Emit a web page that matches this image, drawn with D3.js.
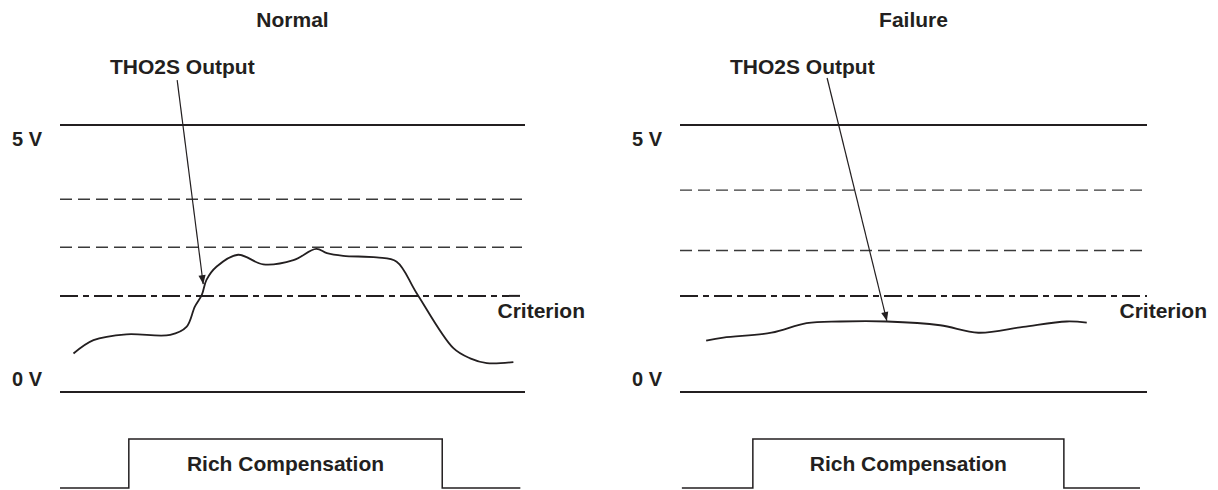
<!DOCTYPE html>
<html>
<head>
<meta charset="utf-8">
<script src="https://cdn.jsdelivr.net/npm/d3@7"></script>
<style>
  body { margin: 0; background: #fff; }
  text { font-family: "Liberation Sans", Arial, sans-serif; font-weight: bold; fill: #231f20; }
</style>
</head>
<body>
<div id="chart"></div>
<script>
// panel titles and labels
const panelTitles = ["Normal", "Failure"];
const outputLabel = "THO2S Output";
const criterionLabel = "Criterion";
const pulseLabel = "Rich Compensation";
const voltTicks = [5, 0];

// sensor output (time in %, volts)
const normalTime = [2.9, 7.2, 14.3, 23.7, 27.2, 29.0, 30.5, 31.5, 33.7, 38.3, 43.7, 50.2, 55.1, 57.4, 60.9, 68.1, 72.4, 76.7, 84.6, 88.2, 91.8, 97.5];
const normalVolt = [0.72, 0.97, 1.08, 1.07, 1.22, 1.60, 1.82, 2.10, 2.35, 2.57, 2.39, 2.47, 2.68, 2.60, 2.55, 2.52, 2.44, 1.85, 0.82, 0.63, 0.54, 0.56];
const failureTime = [5.6, 9.3, 19.6, 27.1, 34.3, 44.3, 55.7, 63.9, 73.5, 82.8, 87.1];
const failureVolt = [0.96, 1.02, 1.11, 1.29, 1.32, 1.32, 1.25, 1.11, 1.22, 1.32, 1.30];

// dashed reference levels (V)
const normalRefLevels = [3.61, 2.71];
const failureRefLevels = [3.78, 2.65];
const criterionLevel = 1.8;

// rich compensation pulse (time %)
const richStart = [14.8, 15.6];
const richEnd = [82.2, 82.2];
const pulseSpan = [[0, 99], [0.4, 98.5]];

// arrow from label to curve [t, v]
const arrowFrom = [[25.2, 5.84], [31.5, 5.88]];
const arrowTo = [[30.8, 2.02], [44.3, 1.33]];

const width = 1218, height = 490;
const ink = "#231f20";

const svg = d3.select("#chart").append("svg")
    .attr("width", width)
    .attr("height", height);

svg.append("defs").append("marker")
    .attr("id", "arrowhead")
    .attr("viewBox", "0 -5 10 10")
    .attr("refX", 10)
    .attr("markerWidth", 11)
    .attr("markerHeight", 9)
    .attr("markerUnits", "userSpaceOnUse")
    .attr("orient", "auto")
    .append("path")
        .attr("d", "M0,-4L10,0L0,4Z")
        .style("fill", ink);

const panels = [
    { left: 60, right: 525, time: normalTime, volt: normalVolt, refs: normalRefLevels },
    { left: 680, right: 1147, time: failureTime, volt: failureVolt, refs: failureRefLevels }
];

const y = d3.scaleLinear().domain([0, 5]).range([392, 125]);
const yPulse = d3.scaleLinear().domain([0, 1]).range([488, 439]);

panels.forEach((p, i) => {
    const x = d3.scaleLinear().domain([0, 100]).range([p.left, p.right]);
    const g = svg.append("g");

    // title
    g.append("text")
        .attr("x", (p.left + p.right) / 2)
        .attr("y", 27)
        .attr("text-anchor", "middle")
        .style("font-size", "21px")
        .text(panelTitles[i]);

    // 5 V / 0 V lines
    voltTicks.forEach(v => {
        g.append("line")
            .attr("x1", x(0)).attr("x2", x(100))
            .attr("y1", y(v)).attr("y2", y(v))
            .style("stroke", ink)
            .style("stroke-width", 2);
        g.append("text")
            .attr("x", p.left - 48)
            .attr("y", y(v) + (v === 5 ? 21 : -6))
            .style("font-size", "20px")
            .text(v + " V");
    });

    // dashed reference lines
    g.selectAll(".ref")
        .data(p.refs)
        .enter().append("line")
        .attr("class", "ref")
        .attr("x1", x(0)).attr("x2", x(100))
        .attr("y1", d => y(d)).attr("y2", d => y(d))
        .style("stroke", "#3a3a3a")
        .style("stroke-width", 1.4)
        .style("stroke-dasharray", "12,6");

    // criterion
    g.append("line")
        .attr("x1", x(0)).attr("x2", x(100))
        .attr("y1", y(criterionLevel)).attr("y2", y(criterionLevel))
        .style("stroke", ink)
        .style("stroke-width", 2)
        .style("stroke-dasharray", "18,5,6,5");
    g.append("text")
        .attr("x", x(100) + 60)
        .attr("y", y(criterionLevel) + 22)
        .attr("text-anchor", "end")
        .style("font-size", "21px")
        .text(criterionLabel);

    // output curve
    const line = d3.line()
        .x(d => x(d[0]))
        .y(d => y(d[1]))
        .curve(d3.curveCatmullRom.alpha(0.5));
    g.append("path")
        .datum(d3.zip(p.time, p.volt))
        .attr("d", line)
        .style("fill", "none")
        .style("stroke", ink)
        .style("stroke-width", 1.8);

    // label + arrow
    g.append("text")
        .attr("x", p.left + 50)
        .attr("y", 74)
        .style("font-size", "21px")
        .text(outputLabel);
    g.append("line")
        .attr("x1", x(arrowFrom[i][0])).attr("y1", y(arrowFrom[i][1]))
        .attr("x2", x(arrowTo[i][0])).attr("y2", y(arrowTo[i][1]))
        .attr("marker-end", "url(#arrowhead)")
        .style("stroke", ink)
        .style("stroke-width", 1.2);

    // rich compensation pulse
    const pulse = [
        [pulseSpan[i][0], 0], [richStart[i], 0], [richStart[i], 1],
        [richEnd[i], 1], [richEnd[i], 0], [pulseSpan[i][1], 0]
    ];
    g.append("path")
        .datum(pulse)
        .attr("d", d3.line().x(d => x(d[0])).y(d => yPulse(d[1])))
        .style("fill", "none")
        .style("stroke", ink)
        .style("stroke-width", 1.5);
    g.append("text")
        .attr("x", (x(richStart[i]) + x(richEnd[i])) / 2)
        .attr("y", 471)
        .attr("text-anchor", "middle")
        .style("font-size", "21px")
        .text(pulseLabel);
});
</script>
</body>
</html>
